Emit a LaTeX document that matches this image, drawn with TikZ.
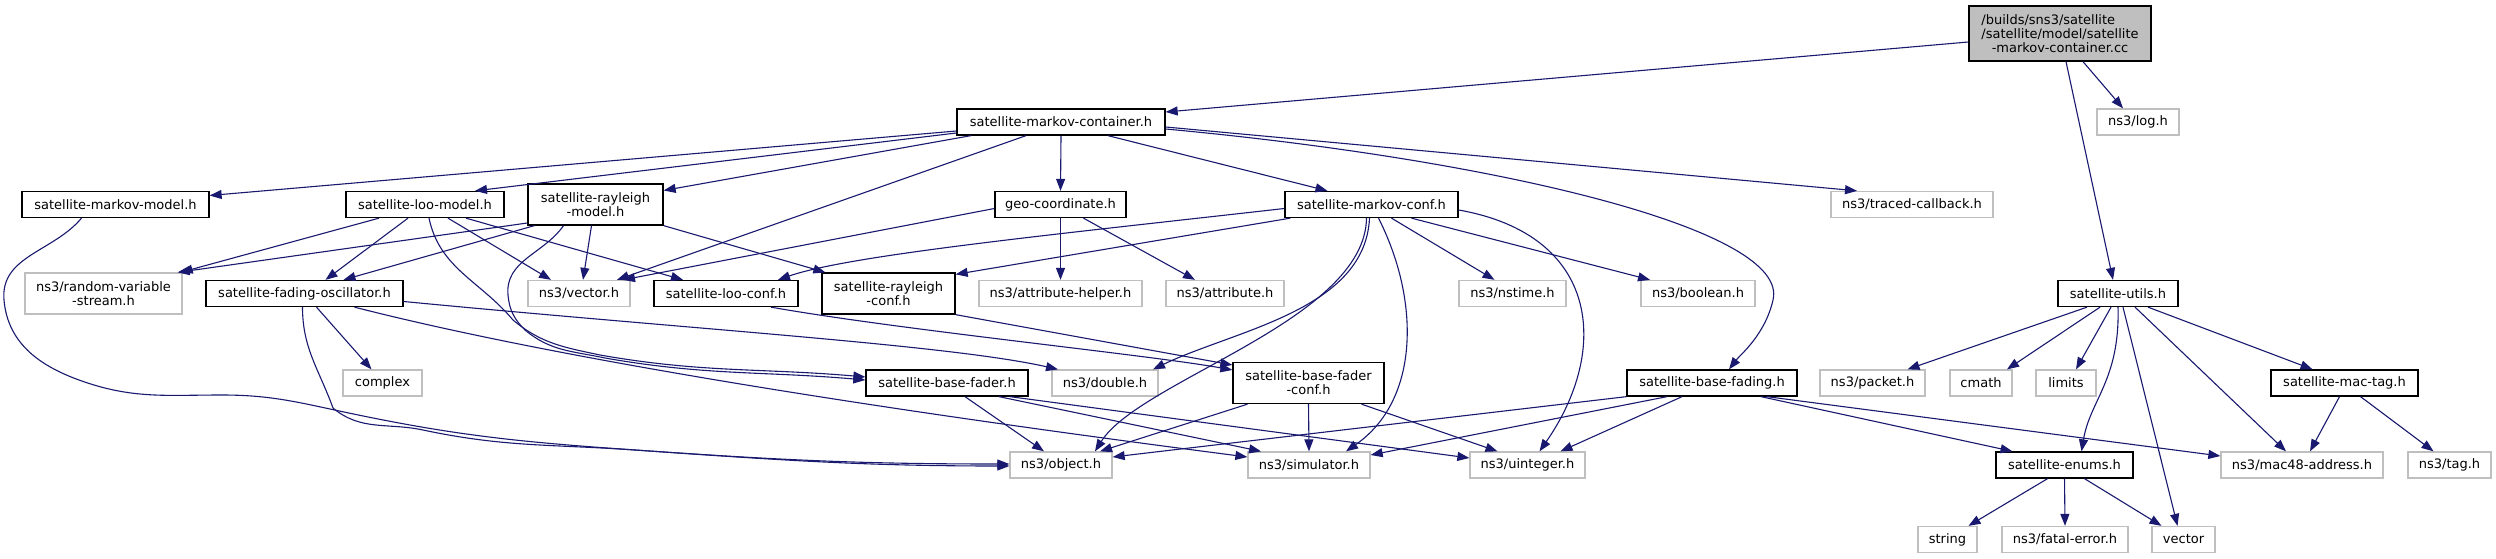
\documentclass[tikz,border=0pt]{standalone}
\usepackage{fontspec}
\setmainfont{DejaVu Sans}
\usetikzlibrary{arrows.meta}
\definecolor{edgecol}{HTML}{191970}
\definecolor{extgray}{HTML}{BFBFBF}
\definecolor{ccfill}{HTML}{BFBFBF}
\newcommand{\nodefont}{\fontsize{13}{14}\selectfont}
\tikzset{
  box/.style={rectangle, inner sep=0pt, align=center, font=\nodefont, text=black},
  doc/.style={box, draw=black, line width=1.3pt},
  ext/.style={box, draw=extgray, line width=1.3pt},
  rootbox/.style={box, draw=black, fill=ccfill, line width=1.3pt},
  e/.style={draw=edgecol, line width=1.1pt, -{Triangle[length=12pt,width=9pt]}}
}
\begin{document}
\begin{tikzpicture}[x=1pt,y=-1pt]
\useasboundingbox[fill=white] (0,0) rectangle (2496,559);
% row 0
\node[rootbox, minimum width=182pt, minimum height=55pt] (cc) at (2060,33.5) {\rlap{/builds/sns3/satellite}\phantom{/satellite/model/satellite}\\/satellite/model/satellite\\-markov-container.cc};
% row 1
\node[doc, minimum width=208pt, minimum height=26pt] (smc) at (1061,122) {satellite-markov-container.h};
\node[ext, minimum width=82pt, minimum height=26pt] (log) at (2138,122) {ns3/log.h};
% row 2
\node[doc, minimum width=187pt, minimum height=26pt] (smm) at (115.5,204.5) {satellite-markov-model.h};
\node[doc, minimum width=158pt, minimum height=26pt] (slm) at (425,204.5) {satellite-loo-model.h};
\node[doc, minimum width=135pt, minimum height=41pt] (srm) at (595.5,204.5) {satellite-rayleigh\\-model.h};
\node[doc, minimum width=131pt, minimum height=26pt] (geo) at (1060.5,204.5) {geo-coordinate.h};
\node[doc, minimum width=173pt, minimum height=26pt] (smcf) at (1371.5,204.5) {satellite-markov-conf.h};
\node[ext, minimum width=162pt, minimum height=26pt] (tcb) at (1912,204.5) {ns3/traced-callback.h};
% row 3
\node[ext, minimum width=157pt, minimum height=41pt] (rvs) at (103.5,293.5) {ns3/random-variable\\-stream.h};
\node[doc, minimum width=197pt, minimum height=26pt] (sfo) at (304.5,293.5) {satellite-fading-oscillator.h};
\node[ext, minimum width=102pt, minimum height=26pt] (vec) at (579,293.5) {ns3/vector.h};
\node[doc, minimum width=144pt, minimum height=26pt] (slc) at (726,293.5) {satellite-loo-conf.h};
\node[doc, minimum width=133pt, minimum height=41pt] (src) at (888.5,293.5) {satellite-rayleigh\\-conf.h};
\node[ext, minimum width=163pt, minimum height=26pt] (ah) at (1060.5,293.5) {ns3/attribute-helper.h};
\node[ext, minimum width=118pt, minimum height=26pt] (attr) at (1225,293.5) {ns3/attribute.h};
\node[ext, minimum width=107pt, minimum height=26pt] (nst) at (1512.5,293.5) {ns3/nstime.h};
\node[ext, minimum width=114pt, minimum height=26pt] (bool) at (1698,293.5) {ns3/boolean.h};
\node[doc, minimum width=120pt, minimum height=26pt] (sut) at (2118,293.5) {satellite-utils.h};
% row 4
\node[ext, minimum width=79pt, minimum height=26pt] (cpx) at (382.5,383) {complex};
\node[doc, minimum width=162pt, minimum height=26pt] (sbf) at (947,383) {satellite-base-fader.h};
\node[ext, minimum width=106pt, minimum height=26pt] (dbl) at (1105,383) {ns3/double.h};
\node[doc, minimum width=151pt, minimum height=41pt] (sbfc) at (1308.5,383) {satellite-base-fader\\-conf.h};
\node[doc, minimum width=170pt, minimum height=26pt] (sbfd) at (1712,383) {satellite-base-fading.h};
\node[ext, minimum width=105pt, minimum height=26pt] (pkt) at (1872.5,383) {ns3/packet.h};
\node[ext, minimum width=62pt, minimum height=26pt] (cmath) at (1981,383) {cmath};
\node[ext, minimum width=60pt, minimum height=26pt] (lim) at (2066,383) {limits};
\node[doc, minimum width=147pt, minimum height=26pt] (smt) at (2344.5,383) {satellite-mac-tag.h};
% row 5
\node[ext, minimum width=102pt, minimum height=26pt] (obj) at (1061,465) {ns3/object.h};
\node[ext, minimum width=122pt, minimum height=26pt] (sim) at (1309,465) {ns3/simulator.h};
\node[ext, minimum width=115pt, minimum height=26pt] (uint) at (1527.5,465) {ns3/uinteger.h};
\node[doc, minimum width=137pt, minimum height=26pt] (enums) at (2064.5,465) {satellite-enums.h};
\node[ext, minimum width=162pt, minimum height=26pt] (mac) at (2302,465) {ns3/mac48-address.h};
\node[ext, minimum width=83pt, minimum height=26pt] (tag) at (2449.5,465) {ns3/tag.h};
% row 6
\node[ext, minimum width=59pt, minimum height=26pt] (str) at (1947.5,539.5) {string};
\node[ext, minimum width=126pt, minimum height=26pt] (fe) at (2065,539.5) {ns3/fatal-error.h};
\node[ext, minimum width=63pt, minimum height=26pt] (vecs) at (2183.5,539.5) {vector};

% edges from cc
\draw[e] ([yshift=-8.5]cc.west) -- ([yshift=10]smc.east);
\draw[e] ([xshift=23]cc.south) -- ([xshift=-15]log.north);
\draw[e] ([xshift=6]cc.south) -- ([xshift=-5]sut.north);
% edges from smc
\draw[e] ([yshift=-9]smc.west) -- ([yshift=9]smm.east);
\draw[e] ([yshift=-11]smc.west) -- ([xshift=50]slm.north);
\draw[e] ([xshift=-90]smc.south) -- ([yshift=14]srm.east);
\draw[e] ([xshift=-35]smc.south) -- ([xshift=38]vec.north);
\draw[e] (smc.south) -- (geo.north);
\draw[e] ([xshift=47]smc.south) -- ([xshift=-44]smcf.north);
\draw[e] ([yshift=-5]smc.east) -- ([xshift=-55]tcb.north);
\draw[e] ([yshift=-7]smc.east) .. controls (1500,160) and (1790,230) .. (1773,300) .. controls (1765,335) and (1740,355) .. ([xshift=17]sbfd.north);
% smm
\draw[e] ([xshift=-34]smm.south) to[out=-130,in=95] (4,300) to[out=-85,in=160] (79,380) to[out=-20,in=180] (222,395) to[out=0,in=168] (344,412) to[out=-12,in=176] (635,450) to[out=-4,in=180] ([yshift=1]obj.west);
% slm
\draw[e] ([xshift=-46]slm.south) -- ([xshift=-2]rvs.north east);
\draw[e] ([xshift=-17]slm.south) -- ([xshift=21]sfo.north);
\draw[e] ([xshift=23]slm.south) -- ([xshift=-28]vec.north);
\draw[e] ([xshift=41]slm.south) -- ([xshift=-43]slc.north);
\draw[e] ([xshift=4]slm.south) to[out=-78,in=130] (513,320) to[out=-40,in=168] (600,355) to[out=-10,in=175] ([yshift=6]sbf.west);
% srm
\draw[e] ([yshift=-18.5]srm.west) -- ([xshift=-5]rvs.north east);
\draw[e] ([xshift=7]srm.south west) -- ([xshift=39]sfo.north);
\draw[e] ([xshift=-4]srm.south) -- ([xshift=4]vec.north);
\draw[e] (srm.south east) -- ([xshift=4]src.north west);
\draw[e] ([xshift=-32]srm.south) to[out=-125,in=95] (508,295) to[out=-85,in=135] (525,330) to[out=-40,in=168] (605,358) to[out=-10,in=175] ([yshift=3]sbf.west);
% geo
\draw[e] ([yshift=-4]geo.west) -- ([xshift=44]vec.north);
\draw[e] (geo.south) -- (ah.north);
\draw[e] ([xshift=23]geo.south) -- ([xshift=-30]attr.north);
% smcf
\draw[e] ([yshift=-4]smcf.west) .. controls (1050,235) and (850,255) .. ([xshift=52]slc.north);
\draw[e] ([xshift=6]smcf.south west) -- ([yshift=-2]src.north east);
\draw[e] ([xshift=-2]smcf.south) .. controls (1365,310) and (1235,330) .. ([xshift=48]dbl.north);
\draw[e] ([xshift=-5]smcf.south) .. controls (1365,320) and (1140,380) .. ([xshift=34]obj.north);
\draw[e] ([xshift=7]smcf.south) .. controls (1420,300) and (1420,400) .. ([xshift=37]sim.north);
\draw[e] ([xshift=20]smcf.south) -- ([xshift=-18]nst.north);
\draw[e] ([xshift=40]smcf.south) -- ([xshift=-48]bool.north);
\draw[e] ([yshift=-5.5]smcf.east) .. controls (1600,235) and (1610,350) .. ([xshift=12]uint.north);
% sfo
\draw[e] ([xshift=12]sfo.south) -- ([xshift=-11]cpx.north);
\draw[e] ([xshift=-2]sfo.south) to[out=-90,in=110] (333,408) to[out=-40,in=168] (423,430) to[out=-12,in=176] (635,450) to[out=-4,in=180] ([yshift=-1]obj.west);
\draw[e] ([xshift=50]sfo.south) .. controls (600,370) and (1000,425) .. ([yshift=8]sim.west);
\draw[e] ([yshift=-8]sfo.east) .. controls (700,330) and (950,345) .. ([xshift=-47]dbl.north);
% conf -> base fader conf
\draw[e] ([xshift=45]slc.south) .. controls (900,330) and (1150,355) .. ([yshift=13]sbfc.west);
\draw[e] (src.south east) -- ([yshift=18]sbfc.west);
% sbf
\draw[e] ([xshift=18]sbf.south) -- ([xshift=-17]obj.north);
\draw[e] ([xshift=52]sbf.south) -- ([xshift=-48]sim.north);
\draw[e] ([xshift=63]sbf.south) -- ([yshift=7]uint.west);
% sbfc
\draw[e] ([xshift=-61]sbfc.south) -- ([xshift=39]obj.north);
\draw[e] (sbfc.south) -- (sim.north);
\draw[e] ([xshift=53]sbfc.south) -- ([xshift=-30]uint.north);
% sbfd
\draw[e] (sbfd.south west) -- ([yshift=8]obj.east);
\draw[e] ([xshift=-45]sbfd.south) -- ([yshift=10]sim.east);
\draw[e] ([xshift=-30]sbfd.south) -- ([xshift=33]uint.north);
\draw[e] ([xshift=49]sbfd.south) -- ([xshift=-52]enums.north);
\draw[e] ([xshift=55]sbfd.south) -- ([yshift=9]mac.west);
% sut
\draw[e] ([xshift=-31]sut.south) -- ([xshift=35]pkt.north);
\draw[e] ([xshift=-18]sut.south) -- ([xshift=26]cmath.north);
\draw[e] ([xshift=-7]sut.south) -- ([xshift=10]lim.north);
\draw[e] (sut.south) .. controls (2120,380) and (2090,400) .. ([xshift=17]enums.north);
\draw[e] ([xshift=5]sut.south) -- ([xshift=-6]vecs.north);
\draw[e] ([xshift=17]sut.south) -- ([xshift=-16]mac.north);
\draw[e] ([xshift=30]sut.south) -- ([xshift=-32]smt.north);
% smt
\draw[e] ([xshift=-5]smt.south) -- ([xshift=8]mac.north);
\draw[e] ([xshift=16]smt.south) -- ([xshift=-16]tag.north);
% enums
\draw[e] ([xshift=-17]enums.south) -- ([xshift=21]str.north);
\draw[e] (enums.south) -- (fe.north);
\draw[e] ([xshift=20]enums.south) -- ([xshift=-22]vecs.north);
\end{tikzpicture}
\end{document}
